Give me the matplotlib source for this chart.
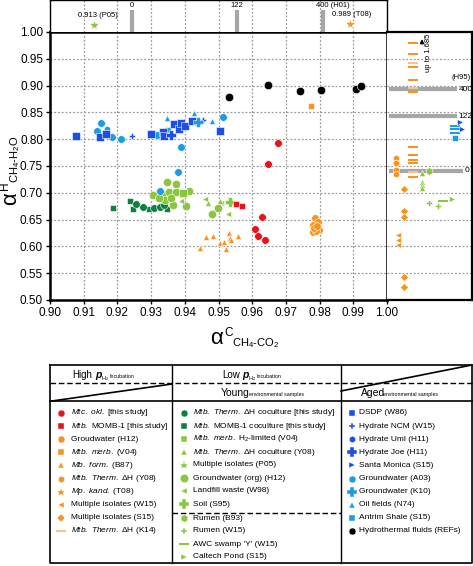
import numpy as np
import matplotlib.pyplot as plt

plt.rcParams['font.family'] = ['Liberation Sans', 'DejaVu Sans']
plt.rcParams['mathtext.fontset'] = 'custom'
plt.rcParams['mathtext.rm'] = 'Liberation Sans'
plt.rcParams['mathtext.it'] = 'Liberation Sans:italic'
plt.rcParams['mathtext.bf'] = 'Liberation Sans:bold'

RED = '#e8141c'
ORANGE = '#f7941d'
LORANGE = '#fbc184'
DGREEN = '#10803f'
LGREEN = '#8cc63f'
DBLUE = '#1c4fe6'
LBLUE = '#1e9be6'
GRAY = '#a6a6a6'

# ---------------- data (alpha C, alpha H) ----------------
okl_x = [0.9677, 0.9647, 0.9628, 0.9608, 0.9617, 0.9637]
okl_y = [0.793, 0.754, 0.655, 0.632, 0.619, 0.612]
momb_x = [0.9552, 0.9570]
momb_y = [0.679, 0.676]
h12_x = [0.9786, 0.9795, 0.9780, 0.9798, 0.9780, 0.9790, 0.9783, 0.9792]
h12_y = [0.653, 0.645, 0.640, 0.631, 0.626, 0.628, 0.635, 0.638]
v04_x = [0.9773]
v04_y = [0.862]
b87_x = [0.9445, 0.9462, 0.9484, 0.9504, 0.9516, 0.9522, 0.9531, 0.9534, 0.9558, 0.9537]
b87_y = [0.597, 0.617, 0.619, 0.606, 0.608, 0.595, 0.625, 0.616, 0.619, 0.612]

therm_co_x = [0.9276, 0.9308, 0.9326, 0.9255, 0.9338]
therm_co_y = [0.673, 0.671, 0.673, 0.680, 0.677]
momb_co_x = [0.9187, 0.9237, 0.9246, 0.9294, 0.9347]
momb_co_y = [0.672, 0.685, 0.670, 0.670, 0.670]
org_x = [0.9306, 0.9335, 0.9347, 0.9374, 0.9353, 0.9374, 0.9412, 0.9403, 0.9340,
         0.9365, 0.9480, 0.9499, 0.9322, 0.9360]
org_y = [0.696, 0.698, 0.720, 0.716, 0.702, 0.702, 0.703, 0.676, 0.687,
         0.677, 0.661, 0.672, 0.690, 0.690]
v04h_x = [0.9394]
v04h_y = [0.700]
y08co_x = [0.9469, 0.9505]
y08co_y = [0.681, 0.684]
w98_x = [0.9389, 0.9460, 0.9507, 0.9528]
w98_y = [0.685, 0.689, 0.681, 0.660]
soil_x = [0.9533]
soil_y = [0.683]

dsdp_x = [0.9077, 0.9148, 0.9166, 0.9300, 0.9335, 0.9338, 0.9367, 0.9383, 0.9390,
          0.9400, 0.9420, 0.9503]
dsdp_y = [0.806, 0.804, 0.810, 0.810, 0.813, 0.806, 0.829, 0.819, 0.830,
          0.825, 0.834, 0.815]
ncm_x = [0.9243, 0.9453]
ncm_y = [0.806, 0.836]
joe_x = [0.9360]
joe_y = [0.808]
uml_x = [0.9170]
uml_y = [0.819]
a03_x = [0.9151, 0.9140, 0.9184, 0.9210, 0.9317, 0.9514, 0.9390, 0.9380, 0.9326]
a03_y = [0.830, 0.815, 0.804, 0.800, 0.808, 0.841, 0.786, 0.739, 0.703]
k10_x = [0.9438]
k10_y = [0.832]
oil_x = [0.9347, 0.9427, 0.9480]
oil_y = [0.840, 0.849, 0.834]
antrim_x = [0.9350]
antrim_y = [0.818]
hydro_x = [0.9530, 0.9647, 0.9742, 0.9804, 0.9908, 0.9922]
hydro_y = [0.879, 0.901, 0.890, 0.892, 0.894, 0.899]

# top strip: alpha C only values
top_bar_x = [0.9243, 0.9555, 0.9810]
top_bar_lab = ['0', '122', '400 (H01)']
p05_c = 0.913
t08_c = 0.989

# right strip: alpha H only values (column position, alpha H)
k14_col = 26
k14_y = [0.979, 0.959, 0.942, 0.935, 0.910, 0.895, 0.888, 0.786, 0.771, 0.761, 0.755, 0.739, 0.730]
k14_light = [0, 0, 1, 0, 0, 1, 0, 0, 0, 0, 0, 1, 0]
y08_col = 9
y08_y = [0.765, 0.755, 0.742, 0.735]
s15_col = 17
s15_y = [0.707, 0.666, 0.655, 0.543, 0.524]
w15_col = 11
w15_y = [0.622, 0.612, 0.602]
y08co_col = 35
y08co_h = [0.737, 0.720, 0.714, 0.709]
b93_col, b93_y = 42, [0.740]
rumen_col = [42, 51]
rumen_y = [0.681, 0.675]
awc_col, awc_y = 56, [0.685]
pond_col, pond_y = 65, [0.688]
sm_col = [73, 75]
sm_y = [0.832, 0.819]
antrim_col = 68
antrim_h = [0.825, 0.819, 0.812]
antrim_sq = [0.803]
h95_y = [0.893, 0.843, 0.741]
h95_lab = ['400', '122', '0']
h95_len = [70, 70, 76]

W, H = 473, 566


def box(l, t, r, b):
    return [l / W, 1 - b / H, (r - l) / W, (b - t) / H]


fig = plt.figure(figsize=(4.73, 5.66), dpi=100)

leg = fig.add_axes([0, 0, 1, 1])
leg.set_xlim(0, W)
leg.set_ylim(H, 0)
leg.axis('off')

ax = fig.add_axes(box(50, 32, 387, 300))
axt = fig.add_axes(box(50, 0, 387, 32))
axr = fig.add_axes(box(387, 32, 472, 300))

grid_kw = dict(color='#9a9a9a', linestyle=(0, (1.5, 1.5)), linewidth=0.9)
mk = dict(linestyle='none', markeredgecolor='white', markeredgewidth=0.4)

# ---------------- main panel ----------------
ax.set_xlim(0.90, 1.00)
ax.set_ylim(0.50, 1.00)
xt = np.round(np.arange(0.90, 1.001, 0.01), 2)
yt = np.round(np.arange(0.50, 1.001, 0.05), 2)
ax.set_xticks(xt)
ax.set_xticklabels(['%.2f' % v for v in xt])
ax.set_yticks(yt)
ax.set_yticklabels(['%.2f' % v for v in yt])
ax.tick_params(labelsize=8.5, length=3, width=1, pad=2)
ax.grid(True, **grid_kw)
ax.set_axisbelow(True)
for s in ax.spines.values():
    s.set_linewidth(1.8)

series = [
    (b87_x, b87_y, '^', ORANGE, 5),
    (h12_x, h12_y, 'o', ORANGE, 5.5),
    (v04_x, v04_y, 's', ORANGE, 5),
    (momb_co_x, momb_co_y, 's', DGREEN, 5),
    (therm_co_x, therm_co_y, 'o', DGREEN, 5.5),
    (org_x, org_y, 'o', LGREEN, 6),
    (v04h_x, v04h_y, 's', LGREEN, 5.5),
    (w98_x, w98_y, '<', LGREEN, 5),
    (y08co_x, y08co_y, '^', LGREEN, 5),
    (soil_x, soil_y, 'P', LGREEN, 7),
    (okl_x, okl_y, 'o', RED, 5.5),
    (momb_x, momb_y, 's', RED, 5),
    (a03_x, a03_y, 'o', LBLUE, 5.5),
    (uml_x, uml_y, 'h', LBLUE, 5),
    (oil_x, oil_y, '^', LBLUE, 5),
    (antrim_x, antrim_y, 's', LBLUE, 5),
    (dsdp_x, dsdp_y, 's', DBLUE, 5.5),
    (ncm_x, ncm_y, 'P', DBLUE, 4.5),
    (joe_x, joe_y, 'P', DBLUE, 7),
    (k10_x, k10_y, 'P', LBLUE, 7),
    (hydro_x, hydro_y, 'o', 'black', 6),
]
for sx, sy, m, c, s in series:
    ax.plot(sx, sy, marker=m, color=c, markersize=s, **mk)

# axis labels built from pieces
def ftxt(x, y, s, **kw):
    fig.text(x / W, 1 - y / H, s, **kw)

ftxt(223, 344, 'α', fontsize=16, ha='right', va='baseline')
ftxt(224, 336, 'C', fontsize=8.5, ha='left', va='baseline')
ftxt(232, 346, 'CH$_4$-CO$_2$', fontsize=8, ha='left', va='baseline')
rot = dict(rotation=90, rotation_mode='anchor', ha='left', va='baseline')
ftxt(16, 205, 'α', fontsize=16, **rot)
ftxt(8, 190, 'H', fontsize=8.5, **rot)
ftxt(18, 183, 'CH$_4$-H$_2$O', fontsize=8, **rot)

# ---------------- top strip ----------------
axt.set_xlim(0.90, 1.00)
axt.set_ylim(0, 1)
axt.set_xticks(xt)
axt.set_yticks([])
axt.tick_params(length=0, labelbottom=False)
axt.grid(True, axis='x', **grid_kw)
axt.set_axisbelow(True)
for s in axt.spines.values():
    s.set_linewidth(1.0)
axt.spines['bottom'].set_visible(False)
axt.vlines(top_bar_x, 0, 0.68, color=GRAY, linewidth=3)
for bx, bl in zip(top_bar_x, top_bar_lab):
    if bl.startswith('400'):
        axt.text(bx - 0.0022, 0.84, bl, fontsize=5.5, ha='left', va='center')
    else:
        axt.text(bx, 0.84, bl, fontsize=5.5, ha='center', va='center')
axt.plot([p05_c], [0.22], marker='*', color=LGREEN, markersize=7, **mk)
axt.text(p05_c + 0.0012, 0.52, '%.3f (P05)' % p05_c, fontsize=5.5, ha='center', va='center')
axt.plot([t08_c], [0.25], marker='*', color=ORANGE, markersize=7, **mk)
axt.text(t08_c + 0.0005, 0.55, '%.3f (T08)' % t08_c, fontsize=5.5, ha='center', va='center')

# ---------------- right strip ----------------
axr.set_xlim(0, 85)
axr.set_ylim(0.50, 1.00)
axr.set_yticks(yt)
axr.set_xticks([])
axr.tick_params(left=False, labelleft=False, length=0)
axr.grid(True, axis='y', **grid_kw)
axr.set_axisbelow(True)
for s in axr.spines.values():
    s.set_linewidth(1.6)
axr.spines['left'].set_visible(False)
for hy, hl, hlen in zip(h95_y, h95_lab, h95_len):
    axr.hlines(hy, 2, hlen, color=GRAY, linewidth=3)
    axr.text(hlen + 1.5, hy, hl, fontsize=6, ha='left', va='center')
axr.text(83.5, 0.915, '(H95)', fontsize=5.5, ha='right', va='center')
axr.annotate('', xy=(35, 0.992), xytext=(35, 0.972),
             arrowprops=dict(arrowstyle='-|>', color='black', lw=0.8, mutation_scale=6))
axr.text(41, 0.962, 'up to 1.685', fontsize=5.5, rotation=90, ha='center', va='center')

for yy, lt in zip(k14_y, k14_light):
    axr.plot([k14_col], [yy], marker='_', color=LORANGE if lt else ORANGE,
             markersize=7, markeredgewidth=1.5, linestyle='none')
axr.plot([y08_col] * len(y08_y), y08_y, marker='h', color=ORANGE, markersize=5, **mk)
axr.plot([s15_col] * len(s15_y), s15_y, marker='D', color=ORANGE, markersize=4, **mk)
axr.plot([w15_col] * len(w15_y), w15_y, marker='<', color=ORANGE, markersize=4, **mk)
axr.plot([y08co_col] * len(y08co_h), y08co_h, marker='^', color=LGREEN, markersize=5, **mk)
axr.plot([b93_col], b93_y, marker='h', color=LGREEN, markersize=5.5, **mk)
axr.plot(rumen_col, rumen_y, marker='P', color=LGREEN, markersize=4.5, **mk)
axr.plot([awc_col], awc_y, marker='_', color=LGREEN, markersize=7, markeredgewidth=1.5, linestyle='none')
axr.plot([pond_col], pond_y, marker='>', color=LGREEN, markersize=5, **mk)
for yy in antrim_h:
    axr.plot([antrim_col], [yy], marker='_', color=LBLUE, markersize=7, markeredgewidth=1.5, linestyle='none')
axr.plot([antrim_col], antrim_sq, marker='s', color=LBLUE, markersize=5, **mk)
axr.plot(sm_col, sm_y, marker='>', color=DBLUE, markersize=4.5, **mk)

# ---------------- legend table ----------------
L, R, T, B = 50, 472, 365, 563
c1, c2 = 172, 341
leg.plot([L, R, R, L, L], [T, T, B, B, T], color='black', lw=1.2)
leg.plot([c1, c1], [T, B], color='black', lw=1.0)
leg.plot([c2, c2], [T, B], color='black', lw=1.0)
leg.plot([L, R], [383, 383], color='black', lw=1.0, linestyle=(0, (4, 2)))
leg.plot([L, R], [401, 401], color='black', lw=1.2)
leg.plot([L + 2, c1], [401, 384], color='black', lw=1.2)
leg.plot([c2, R], [391, 365], color='black', lw=1.2)
leg.plot([c1, c2], [513, 513], color='black', lw=1.0, linestyle=(0, (4, 2)))


def ltxt(x, y, s, **kw):
    leg.text(x, y, s, va='baseline', ha='left', **kw)


ltxt(72, 378, 'High', fontsize=7)
ltxt(95, 378, 'p', fontsize=7.5, fontweight='bold', style='italic')
ltxt(100.5, 380, 'H$_2$', fontsize=4)
ltxt(109, 378, 'Incubation', fontsize=3.8)
ltxt(222, 378, 'Low', fontsize=7)
ltxt(242, 378, 'p', fontsize=7.5, fontweight='bold', style='italic')
ltxt(247.5, 380, 'H$_2$', fontsize=4)
ltxt(256, 378, 'Incubation', fontsize=3.8)
ltxt(221, 396, 'Young', fontsize=7.5)
ltxt(249, 396, 'environmental samples', fontsize=3.8)
ltxt(361, 396, 'Aged', fontsize=7.5)
ltxt(383, 396, 'environmental samples', fontsize=3.8)


def it(s):
    return '$\\mathit{' + s.replace(' ', '\\ ') + '}$'


col1 = [
    ('o', RED, 5, it('Mtc. okl.') + ' [this study]'),
    ('s', RED, 4.5, it('Mtb.') + ' MOMB-1 [this study]'),
    ('o', ORANGE, 5, 'Groudwater (H12)'),
    ('s', ORANGE, 4.5, it('Mtb. merb.') + ' (V04)'),
    ('^', ORANGE, 4.5, it('Mb. form.') + ' (B87)'),
    ('h', ORANGE, 5, it('Mtb. Therm.') + ' ΔH (Y08)'),
    ('*', ORANGE, 6.5, it('Mp. kand.') + ' (T08)'),
    ('<', ORANGE, 4.5, 'Multiple isolates (W15)'),
    ('D', ORANGE, 4, 'Multiple isolates (S15)'),
    ('_', LORANGE, 7, it('Mtb. Therm.') + ' ΔH (K14)'),
]
col2 = [
    ('o', DGREEN, 5, it('Mtb. Therm.') + ' ΔH coculture [this study]'),
    ('s', DGREEN, 4.5, it('Mtb.') + ' MOMB-1 coculture [this study]'),
    ('s', LGREEN, 4.5, it('Mtb. merb.') + ' H$_2$-limited (V04)'),
    ('^', LGREEN, 4.5, it('Mtb. Therm.') + ' ΔH coculture (Y08)'),
    ('*', LGREEN, 6.5, 'Multiple isolates (P05)'),
    ('o', LGREEN, 6, 'Groundwater (org) (H12)'),
    ('<', LGREEN, 4.5, 'Landfill waste (W98)'),
    ('P', LGREEN, 7, 'Soil (S95)'),
    ('h', LGREEN, 5.5, 'Rumen (B93)'),
    ('P', LGREEN, 4.5, 'Rumen (W15)'),
    ('_', LGREEN, 7, "AWC swamp 'Y' (W15)"),
    ('>', LGREEN, 4.5, 'Caltech Pond (S15)'),
]
col3 = [
    ('s', DBLUE, 4.5, 'DSDP (W86)'),
    ('P', DBLUE, 4.5, 'Hydrate NCM (W15)'),
    ('h', DBLUE, 5, 'Hydrate Uml (H11)'),
    ('P', DBLUE, 7, 'Hydrate Joe (H11)'),
    ('>', DBLUE, 4, 'Santa Monica (S15)'),
    ('o', LBLUE, 5, 'Groundwater (A03)'),
    ('P', LBLUE, 7, 'Groundwater (K10)'),
    ('^', LBLUE, 4.5, 'Oil fields (N74)'),
    ('s', LBLUE, 4.5, 'Antrim Shale (S15)'),
    ('o', 'black', 5, 'Hydrothermal fluids (REFs)'),
]
rows1 = [413 + 13.1 * i for i in range(10)]
rows2 = [413 + 13.0 * i for i in range(8)] + [518, 531, 544, 557]
rows3 = rows1


def draw_col(entries, rows, mx, tx):
    for (m, c, s, lab), ry in zip(entries, rows):
        if m == '_':
            leg.plot([mx], [ry], marker=m, color=c, markersize=s, markeredgewidth=1.5)
        else:
            leg.plot([mx], [ry], marker=m, color=c, markersize=s,
                     markeredgecolor='white', markeredgewidth=0.3)
        leg.text(tx, ry, lab, fontsize=6, ha='left', va='center')


draw_col(col1, rows1, 61, 71)
draw_col(col2, rows2, 184, 193)
draw_col(col3, rows3, 352, 359)

fig.savefig('out.png', dpi=100)
